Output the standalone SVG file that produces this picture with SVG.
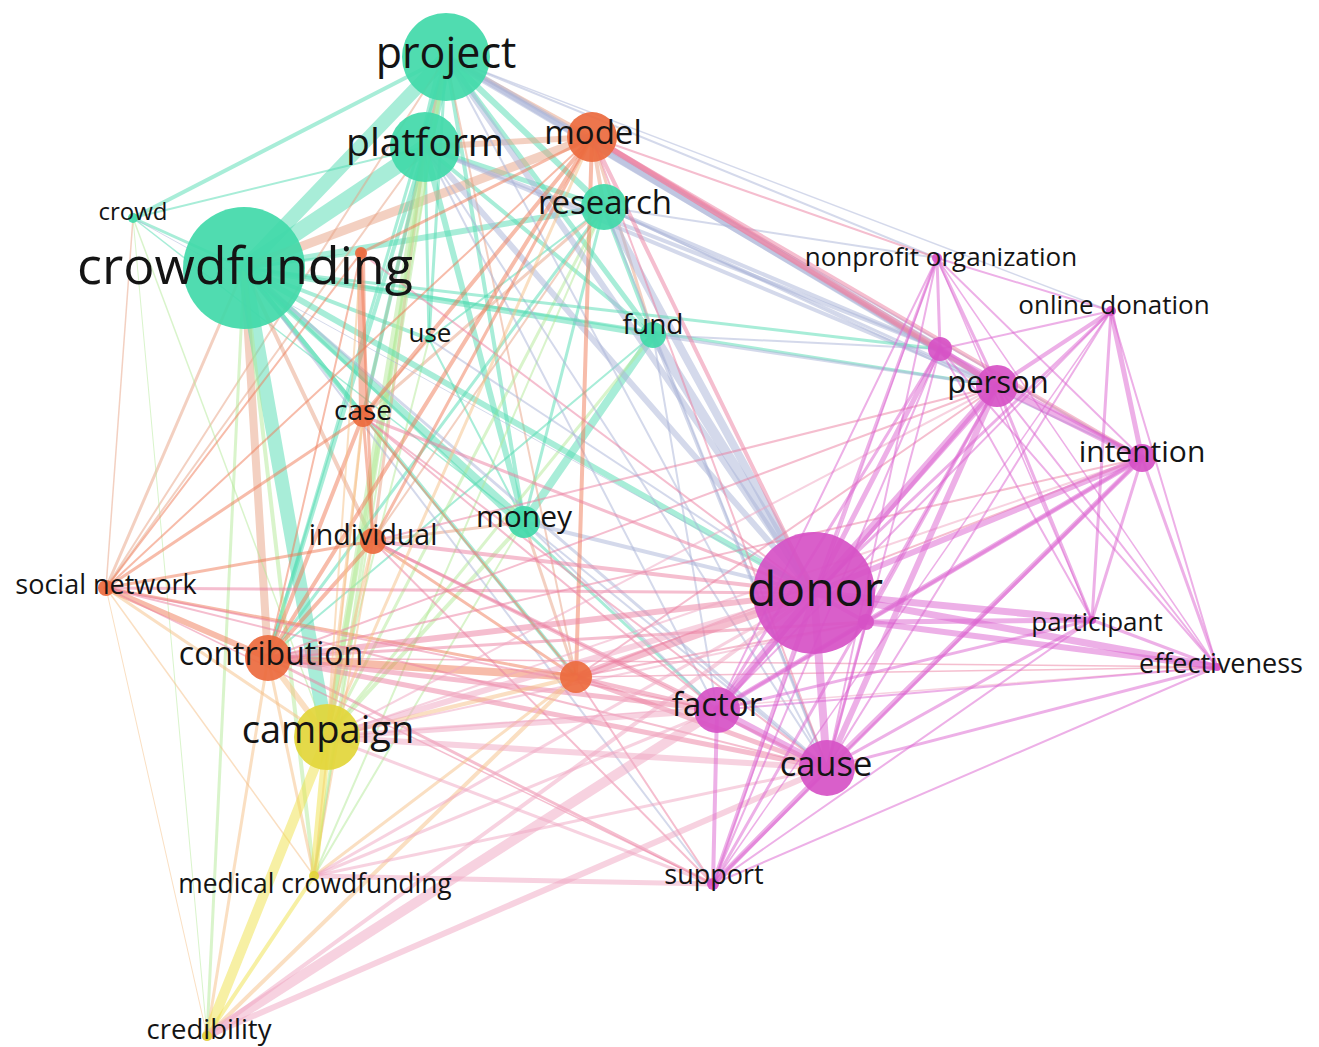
<svg xmlns="http://www.w3.org/2000/svg" width="1319" height="1047" viewBox="0 0 1319 1047">
<style>
  .e{fill:none;stroke-linecap:round;stroke-opacity:.5}
  .tt{stroke:#52dcb2}.oo{stroke:#ef7a55}.pp{stroke:#dc62d0}.yy{stroke:#f0e24a}
  .to{stroke:#e8a184}.tp{stroke:#a9b3d8}.ty{stroke:#b4ea98}.op{stroke:#ec7ea0}
  .oy{stroke:#f5bf86}.py{stroke:#efa6c2}
  .n{fill-opacity:.92}
  .teal{fill:#41d9a9}.orange{fill:#eb6a3e}.pink{fill:#d651c6}.yellow{fill:#e2d63a}
  text{font-family:"Open Sans","Noto Sans","DejaVu Sans",sans-serif;fill:#141414;text-anchor:middle}
</style>
<rect width="1319" height="1047" fill="#ffffff"/>
<g id="links">
  <!-- teal cluster -->
  <line class="e tt" x1="446" y1="57" x2="425" y2="147" stroke-width="14"/>
  <line class="e tt" x1="446" y1="57" x2="244" y2="268" stroke-width="14"/>
  <line class="e tt" x1="425" y1="147" x2="244" y2="268" stroke-width="16"/>
  <line class="e tt" x1="446" y1="57" x2="604" y2="207" stroke-width="6"/>
  <line class="e tt" x1="446" y1="57" x2="133" y2="218" stroke-width="4"/>
  <line class="e tt" x1="425" y1="147" x2="604" y2="207" stroke-width="5"/>
  <line class="e tt" x1="244" y1="268" x2="133" y2="218" stroke-width="3"/>
  <line class="e tt" x1="446" y1="57" x2="429" y2="339" stroke-width="3"/>
  <line class="e tt" x1="425" y1="147" x2="429" y2="339" stroke-width="3"/>
  <line class="e tt" x1="244" y1="268" x2="429" y2="339" stroke-width="4"/>
  <line class="e tt" x1="446" y1="57" x2="653" y2="335" stroke-width="5"/>
  <line class="e tt" x1="425" y1="147" x2="653" y2="335" stroke-width="4"/>
  <line class="e tt" x1="604" y1="207" x2="653" y2="335" stroke-width="4"/>
  <line class="e tt" x1="244" y1="268" x2="653" y2="335" stroke-width="6"/>
  <line class="e tt" x1="446" y1="57" x2="524" y2="522" stroke-width="4"/>
  <line class="e tt" x1="425" y1="147" x2="524" y2="522" stroke-width="6"/>
  <line class="e tt" x1="244" y1="268" x2="524" y2="522" stroke-width="8"/>
  <line class="e tt" x1="604" y1="207" x2="524" y2="522" stroke-width="3"/>
  <line class="e tt" x1="653" y1="335" x2="524" y2="522" stroke-width="8"/>
  <line class="e tt" x1="429" y1="339" x2="524" y2="522" stroke-width="2"/>
  <line class="e tt" x1="133" y1="218" x2="425" y2="147" stroke-width="2"/>
  <line class="e tt" x1="604" y1="207" x2="244" y2="268" stroke-width="6"/>
  <line class="e tt" x1="429" y1="339" x2="604" y2="207" stroke-width="2"/>
  <line class="e tt" x1="133" y1="218" x2="524" y2="522" stroke-width="1.5"/>
  <!-- teal to orange -->
  <line class="e to" x1="446" y1="57" x2="592" y2="137" stroke-width="4"/>
  <line class="e to" x1="425" y1="147" x2="592" y2="137" stroke-width="6"/>
  <line class="e to" x1="592" y1="137" x2="244" y2="268" stroke-width="9"/>
  <line class="e tt" x1="244" y1="268" x2="361" y2="253" stroke-width="3"/>
  <line class="e tt" x1="244" y1="268" x2="363" y2="416" stroke-width="5"/>
  <line class="e to" x1="244" y1="268" x2="373" y2="541" stroke-width="4"/>
  <line class="e to" x1="244" y1="268" x2="106" y2="588" stroke-width="3"/>
  <line class="e to" x1="244" y1="268" x2="268" y2="658" stroke-width="8"/>
  <line class="e tt" x1="244" y1="268" x2="576" y2="677" stroke-width="4"/>
  <line class="e to" x1="446" y1="57" x2="363" y2="416" stroke-width="3"/>
  <line class="e tt" x1="425" y1="147" x2="363" y2="416" stroke-width="4"/>
  <line class="e to" x1="425" y1="147" x2="373" y2="541" stroke-width="3"/>
  <line class="e to" x1="604" y1="207" x2="592" y2="137" stroke-width="4"/>
  <line class="e tt" x1="446" y1="57" x2="268" y2="658" stroke-width="3"/>
  <line class="e tt" x1="425" y1="147" x2="268" y2="658" stroke-width="4"/>
  <line class="e to" x1="524" y1="522" x2="373" y2="541" stroke-width="3"/>
  <line class="e to" x1="524" y1="522" x2="576" y2="677" stroke-width="3"/>
  <line class="e to" x1="653" y1="335" x2="592" y2="137" stroke-width="3"/>
  <line class="e to" x1="604" y1="207" x2="363" y2="416" stroke-width="3"/>
  <line class="e tt" x1="604" y1="207" x2="268" y2="658" stroke-width="3"/>
  <line class="e to" x1="133" y1="218" x2="106" y2="588" stroke-width="1.5"/>
  <line class="e to" x1="446" y1="57" x2="576" y2="677" stroke-width="2"/>
  <line class="e tt" x1="653" y1="335" x2="268" y2="658" stroke-width="2"/>
  <line class="e to" x1="604" y1="207" x2="373" y2="541" stroke-width="2"/>
  <line class="e to" x1="429" y1="339" x2="363" y2="416" stroke-width="2"/>
  <line class="e to" x1="446" y1="57" x2="106" y2="588" stroke-width="2"/>
  <line class="e to" x1="425" y1="147" x2="106" y2="588" stroke-width="2"/>
  <!-- teal to yellow -->
  <line class="e tt" x1="244" y1="268" x2="327" y2="737" stroke-width="14"/>
  <line class="e ty" x1="425" y1="147" x2="327" y2="737" stroke-width="6"/>
  <line class="e ty" x1="446" y1="57" x2="327" y2="737" stroke-width="5"/>
  <line class="e ty" x1="244" y1="268" x2="314" y2="876" stroke-width="4"/>
  <line class="e ty" x1="446" y1="57" x2="314" y2="876" stroke-width="2"/>
  <line class="e ty" x1="425" y1="147" x2="314" y2="876" stroke-width="3"/>
  <line class="e ty" x1="244" y1="268" x2="207" y2="1036" stroke-width="3"/>
  <line class="e ty" x1="524" y1="522" x2="327" y2="737" stroke-width="4"/>
  <line class="e ty" x1="604" y1="207" x2="327" y2="737" stroke-width="3"/>
  <line class="e ty" x1="133" y1="218" x2="207" y2="1036" stroke-width="1"/>
  <line class="e ty" x1="133" y1="218" x2="327" y2="737" stroke-width="1.5"/>
  <line class="e ty" x1="653" y1="335" x2="327" y2="737" stroke-width="3"/>
  <line class="e ty" x1="429" y1="339" x2="327" y2="737" stroke-width="2"/>
  <line class="e ty" x1="524" y1="522" x2="314" y2="876" stroke-width="2"/>
  <line class="e ty" x1="604" y1="207" x2="314" y2="876" stroke-width="2"/>
  <!-- teal to pink -->
  <line class="e tp" x1="446" y1="57" x2="940" y2="349" stroke-width="8"/>
  <line class="e tp" x1="446" y1="57" x2="997" y2="386" stroke-width="5"/>
  <line class="e tp" x1="425" y1="147" x2="814" y2="593" stroke-width="6"/>
  <line class="e tp" x1="604" y1="207" x2="814" y2="593" stroke-width="8"/>
  <line class="e tp" x1="653" y1="335" x2="814" y2="593" stroke-width="10"/>
  <line class="e tt" x1="244" y1="268" x2="814" y2="593" stroke-width="6"/>
  <line class="e tp" x1="446" y1="57" x2="814" y2="593" stroke-width="6"/>
  <line class="e tp" x1="425" y1="147" x2="997" y2="386" stroke-width="4"/>
  <line class="e tt" x1="244" y1="268" x2="997" y2="386" stroke-width="3"/>
  <line class="e tp" x1="604" y1="207" x2="997" y2="386" stroke-width="3"/>
  <line class="e tp" x1="446" y1="57" x2="937" y2="258" stroke-width="2"/>
  <line class="e tp" x1="604" y1="207" x2="937" y2="258" stroke-width="2"/>
  <line class="e tp" x1="653" y1="335" x2="997" y2="386" stroke-width="3"/>
  <line class="e tp" x1="524" y1="522" x2="814" y2="593" stroke-width="4"/>
  <line class="e tt" x1="244" y1="268" x2="717" y2="710" stroke-width="3"/>
  <line class="e tp" x1="244" y1="268" x2="827" y2="768" stroke-width="3"/>
  <line class="e tp" x1="425" y1="147" x2="827" y2="768" stroke-width="2"/>
  <line class="e tp" x1="446" y1="57" x2="1111" y2="311" stroke-width="1.5"/>
  <line class="e tp" x1="604" y1="207" x2="940" y2="349" stroke-width="4"/>
  <line class="e tp" x1="425" y1="147" x2="940" y2="349" stroke-width="4"/>
  <line class="e tp" x1="653" y1="335" x2="940" y2="349" stroke-width="2"/>
  <line class="e tt" x1="244" y1="268" x2="940" y2="349" stroke-width="3"/>
  <line class="e tp" x1="429" y1="339" x2="814" y2="593" stroke-width="2"/>
  <line class="e tp" x1="446" y1="57" x2="1142" y2="458" stroke-width="2"/>
  <line class="e tp" x1="244" y1="268" x2="713" y2="884" stroke-width="2"/>
  <line class="e tp" x1="524" y1="522" x2="717" y2="710" stroke-width="2"/>
  <line class="e tp" x1="524" y1="522" x2="827" y2="768" stroke-width="2"/>
  <line class="e tp" x1="653" y1="335" x2="717" y2="710" stroke-width="2"/>
  <line class="e tp" x1="653" y1="335" x2="827" y2="768" stroke-width="3"/>
  <line class="e tp" x1="604" y1="207" x2="1142" y2="458" stroke-width="2"/>
  <line class="e tp" x1="604" y1="207" x2="827" y2="768" stroke-width="2"/>
  <line class="e tp" x1="446" y1="57" x2="827" y2="768" stroke-width="2"/>
  <line class="e tp" x1="425" y1="147" x2="717" y2="710" stroke-width="2"/>
  <line class="e tp" x1="133" y1="218" x2="814" y2="593" stroke-width="1"/>
  <!-- orange cluster -->
  <line class="e oo" x1="592" y1="137" x2="363" y2="416" stroke-width="4"/>
  <line class="e oo" x1="592" y1="137" x2="373" y2="541" stroke-width="3"/>
  <line class="e oo" x1="592" y1="137" x2="268" y2="658" stroke-width="4"/>
  <line class="e oo" x1="592" y1="137" x2="576" y2="677" stroke-width="4"/>
  <line class="e oo" x1="363" y1="416" x2="373" y2="541" stroke-width="3"/>
  <line class="e oo" x1="363" y1="416" x2="268" y2="658" stroke-width="4"/>
  <line class="e oo" x1="373" y1="541" x2="268" y2="658" stroke-width="4"/>
  <line class="e oo" x1="106" y1="588" x2="268" y2="658" stroke-width="6"/>
  <line class="e oo" x1="106" y1="588" x2="373" y2="541" stroke-width="3"/>
  <line class="e oo" x1="106" y1="588" x2="363" y2="416" stroke-width="3"/>
  <line class="e oo" x1="106" y1="588" x2="361" y2="253" stroke-width="2"/>
  <line class="e oo" x1="268" y1="658" x2="576" y2="677" stroke-width="8"/>
  <line class="e oo" x1="373" y1="541" x2="576" y2="677" stroke-width="3"/>
  <line class="e oo" x1="363" y1="416" x2="576" y2="677" stroke-width="2"/>
  <line class="e oo" x1="361" y1="253" x2="373" y2="541" stroke-width="3"/>
  <line class="e oo" x1="361" y1="253" x2="268" y2="658" stroke-width="2"/>
  <line class="e oo" x1="106" y1="588" x2="576" y2="677" stroke-width="3"/>
  <line class="e oo" x1="592" y1="137" x2="361" y2="253" stroke-width="3"/>
  <line class="e oo" x1="592" y1="137" x2="106" y2="588" stroke-width="2"/>
  <line class="e oo" x1="361" y1="253" x2="363" y2="416" stroke-width="8"/>
  <!-- orange to pink -->
  <line class="e op" x1="576" y1="677" x2="814" y2="593" stroke-width="8"/>
  <line class="e op" x1="268" y1="658" x2="814" y2="593" stroke-width="6"/>
  <line class="e op" x1="268" y1="658" x2="717" y2="710" stroke-width="5"/>
  <line class="e op" x1="268" y1="658" x2="827" y2="768" stroke-width="5"/>
  <line class="e op" x1="576" y1="677" x2="717" y2="710" stroke-width="4"/>
  <line class="e op" x1="576" y1="677" x2="827" y2="768" stroke-width="5"/>
  <line class="e op" x1="106" y1="588" x2="814" y2="593" stroke-width="3"/>
  <line class="e op" x1="373" y1="541" x2="814" y2="593" stroke-width="4"/>
  <line class="e op" x1="363" y1="416" x2="814" y2="593" stroke-width="3"/>
  <line class="e op" x1="592" y1="137" x2="997" y2="386" stroke-width="5"/>
  <line class="e op" x1="592" y1="137" x2="814" y2="593" stroke-width="4"/>
  <line class="e op" x1="592" y1="137" x2="940" y2="349" stroke-width="6"/>
  <line class="e op" x1="592" y1="137" x2="937" y2="258" stroke-width="2"/>
  <line class="e op" x1="373" y1="541" x2="717" y2="710" stroke-width="3"/>
  <line class="e op" x1="106" y1="588" x2="717" y2="710" stroke-width="2"/>
  <line class="e op" x1="106" y1="588" x2="827" y2="768" stroke-width="2"/>
  <line class="e op" x1="268" y1="658" x2="713" y2="884" stroke-width="3"/>
  <line class="e op" x1="576" y1="677" x2="713" y2="884" stroke-width="2"/>
  <line class="e op" x1="373" y1="541" x2="827" y2="768" stroke-width="3"/>
  <line class="e op" x1="363" y1="416" x2="827" y2="768" stroke-width="2"/>
  <line class="e op" x1="592" y1="137" x2="1142" y2="458" stroke-width="4"/>
  <line class="e op" x1="268" y1="658" x2="997" y2="386" stroke-width="2"/>
  <line class="e op" x1="268" y1="658" x2="866" y2="622" stroke-width="3"/>
  <line class="e op" x1="576" y1="677" x2="866" y2="622" stroke-width="2"/>
  <line class="e op" x1="361" y1="253" x2="814" y2="593" stroke-width="2"/>
  <line class="e op" x1="373" y1="541" x2="997" y2="386" stroke-width="2"/>
  <line class="e op" x1="268" y1="658" x2="1142" y2="458" stroke-width="2"/>
  <line class="e op" x1="106" y1="588" x2="713" y2="884" stroke-width="1.5"/>
  <line class="e op" x1="363" y1="416" x2="717" y2="710" stroke-width="2"/>
  <line class="e op" x1="576" y1="677" x2="997" y2="386" stroke-width="2"/>
  <line class="e op" x1="576" y1="677" x2="1142" y2="458" stroke-width="2"/>
  <line class="e op" x1="373" y1="541" x2="713" y2="884" stroke-width="2"/>
  <line class="e op" x1="268" y1="658" x2="1217" y2="667" stroke-width="1.5"/>
  <line class="e op" x1="576" y1="677" x2="1217" y2="667" stroke-width="1.5"/>
  <line class="e op" x1="592" y1="137" x2="827" y2="768" stroke-width="2"/>
  <!-- orange to yellow -->
  <line class="e oy" x1="268" y1="658" x2="327" y2="737" stroke-width="6"/>
  <line class="e oy" x1="106" y1="588" x2="327" y2="737" stroke-width="3"/>
  <line class="e oy" x1="373" y1="541" x2="327" y2="737" stroke-width="3"/>
  <line class="e oy" x1="363" y1="416" x2="327" y2="737" stroke-width="3"/>
  <line class="e oy" x1="576" y1="677" x2="327" y2="737" stroke-width="4"/>
  <line class="e oy" x1="268" y1="658" x2="314" y2="876" stroke-width="3"/>
  <line class="e oy" x1="268" y1="658" x2="207" y2="1036" stroke-width="3"/>
  <line class="e oy" x1="576" y1="677" x2="207" y2="1036" stroke-width="4"/>
  <line class="e oy" x1="106" y1="588" x2="207" y2="1036" stroke-width="1"/>
  <line class="e oy" x1="592" y1="137" x2="327" y2="737" stroke-width="3"/>
  <line class="e oy" x1="361" y1="253" x2="327" y2="737" stroke-width="2"/>
  <line class="e oy" x1="373" y1="541" x2="314" y2="876" stroke-width="2"/>
  <line class="e oy" x1="363" y1="416" x2="314" y2="876" stroke-width="2"/>
  <line class="e oy" x1="576" y1="677" x2="314" y2="876" stroke-width="3"/>
  <line class="e oy" x1="106" y1="588" x2="314" y2="876" stroke-width="1.5"/>
  <!-- yellow cluster -->
  <line class="e yy" x1="327" y1="737" x2="314" y2="876" stroke-width="8"/>
  <line class="e yy" x1="327" y1="737" x2="207" y2="1036" stroke-width="10"/>
  <line class="e yy" x1="314" y1="876" x2="207" y2="1036" stroke-width="4"/>
  <!-- yellow to pink -->
  <line class="e py" x1="207" y1="1036" x2="717" y2="710" stroke-width="10"/>
  <line class="e py" x1="207" y1="1036" x2="827" y2="768" stroke-width="6"/>
  <line class="e py" x1="207" y1="1036" x2="814" y2="593" stroke-width="4"/>
  <line class="e py" x1="314" y1="876" x2="713" y2="884" stroke-width="5"/>
  <line class="e py" x1="327" y1="737" x2="814" y2="593" stroke-width="6"/>
  <line class="e py" x1="327" y1="737" x2="717" y2="710" stroke-width="6"/>
  <line class="e py" x1="327" y1="737" x2="827" y2="768" stroke-width="6"/>
  <line class="e py" x1="327" y1="737" x2="713" y2="884" stroke-width="3"/>
  <line class="e py" x1="314" y1="876" x2="814" y2="593" stroke-width="3"/>
  <line class="e py" x1="314" y1="876" x2="717" y2="710" stroke-width="3"/>
  <line class="e py" x1="314" y1="876" x2="827" y2="768" stroke-width="3"/>
  <line class="e py" x1="327" y1="737" x2="866" y2="622" stroke-width="2"/>
  <line class="e py" x1="327" y1="737" x2="997" y2="386" stroke-width="2"/>
  <line class="e py" x1="327" y1="737" x2="1142" y2="458" stroke-width="2"/>
  <line class="e py" x1="327" y1="737" x2="1217" y2="667" stroke-width="1.5"/>
  <!-- pink cluster -->
  <line class="e pp" x1="814" y1="593" x2="997" y2="386" stroke-width="8"/>
  <line class="e pp" x1="814" y1="593" x2="1142" y2="458" stroke-width="6"/>
  <line class="e pp" x1="814" y1="593" x2="827" y2="768" stroke-width="8"/>
  <line class="e pp" x1="814" y1="593" x2="717" y2="710" stroke-width="8"/>
  <line class="e pp" x1="814" y1="593" x2="1092" y2="620" stroke-width="7"/>
  <line class="e pp" x1="814" y1="593" x2="1217" y2="667" stroke-width="7"/>
  <line class="e pp" x1="814" y1="593" x2="713" y2="884" stroke-width="4"/>
  <line class="e pp" x1="814" y1="593" x2="940" y2="349" stroke-width="5"/>
  <line class="e pp" x1="814" y1="593" x2="937" y2="258" stroke-width="3"/>
  <line class="e pp" x1="814" y1="593" x2="1111" y2="311" stroke-width="3"/>
  <line class="e pp" x1="814" y1="593" x2="866" y2="622" stroke-width="4"/>
  <line class="e pp" x1="997" y1="386" x2="1142" y2="458" stroke-width="7"/>
  <line class="e pp" x1="997" y1="386" x2="940" y2="349" stroke-width="6"/>
  <line class="e pp" x1="997" y1="386" x2="937" y2="258" stroke-width="3"/>
  <line class="e pp" x1="997" y1="386" x2="1111" y2="311" stroke-width="4"/>
  <line class="e pp" x1="997" y1="386" x2="827" y2="768" stroke-width="6"/>
  <line class="e pp" x1="997" y1="386" x2="717" y2="710" stroke-width="4"/>
  <line class="e pp" x1="997" y1="386" x2="1092" y2="620" stroke-width="3"/>
  <line class="e pp" x1="997" y1="386" x2="713" y2="884" stroke-width="3"/>
  <line class="e pp" x1="997" y1="386" x2="1217" y2="667" stroke-width="2"/>
  <line class="e pp" x1="940" y1="349" x2="937" y2="258" stroke-width="3"/>
  <line class="e pp" x1="940" y1="349" x2="1111" y2="311" stroke-width="2"/>
  <line class="e pp" x1="940" y1="349" x2="1142" y2="458" stroke-width="3"/>
  <line class="e pp" x1="940" y1="349" x2="717" y2="710" stroke-width="3"/>
  <line class="e pp" x1="940" y1="349" x2="827" y2="768" stroke-width="2"/>
  <line class="e pp" x1="1142" y1="458" x2="1111" y2="311" stroke-width="5"/>
  <line class="e pp" x1="1142" y1="458" x2="717" y2="710" stroke-width="5"/>
  <line class="e pp" x1="1142" y1="458" x2="827" y2="768" stroke-width="5"/>
  <line class="e pp" x1="1142" y1="458" x2="1092" y2="620" stroke-width="3"/>
  <line class="e pp" x1="1142" y1="458" x2="1217" y2="667" stroke-width="3"/>
  <line class="e pp" x1="1142" y1="458" x2="713" y2="884" stroke-width="3"/>
  <line class="e pp" x1="1142" y1="458" x2="937" y2="258" stroke-width="2"/>
  <line class="e pp" x1="1111" y1="311" x2="937" y2="258" stroke-width="2"/>
  <line class="e pp" x1="1111" y1="311" x2="1092" y2="620" stroke-width="3"/>
  <line class="e pp" x1="1111" y1="311" x2="1217" y2="667" stroke-width="2"/>
  <line class="e pp" x1="1111" y1="311" x2="717" y2="710" stroke-width="2"/>
  <line class="e pp" x1="1092" y1="620" x2="1217" y2="667" stroke-width="3"/>
  <line class="e pp" x1="1092" y1="620" x2="717" y2="710" stroke-width="3"/>
  <line class="e pp" x1="1092" y1="620" x2="827" y2="768" stroke-width="3"/>
  <line class="e pp" x1="1217" y1="667" x2="827" y2="768" stroke-width="3"/>
  <line class="e pp" x1="1217" y1="667" x2="717" y2="710" stroke-width="2"/>
  <line class="e pp" x1="1217" y1="667" x2="713" y2="884" stroke-width="2"/>
  <line class="e pp" x1="717" y1="710" x2="827" y2="768" stroke-width="8"/>
  <line class="e pp" x1="717" y1="710" x2="713" y2="884" stroke-width="4"/>
  <line class="e pp" x1="827" y1="768" x2="713" y2="884" stroke-width="5"/>
  <line class="e pp" x1="866" y1="622" x2="1217" y2="667" stroke-width="6"/>
  <line class="e pp" x1="866" y1="622" x2="1092" y2="620" stroke-width="5"/>
  <line class="e pp" x1="866" y1="622" x2="827" y2="768" stroke-width="3"/>
  <line class="e pp" x1="866" y1="622" x2="997" y2="386" stroke-width="3"/>
  <line class="e pp" x1="937" y1="258" x2="827" y2="768" stroke-width="2"/>
  <line class="e pp" x1="937" y1="258" x2="717" y2="710" stroke-width="2"/>
  <line class="e pp" x1="937" y1="258" x2="1217" y2="667" stroke-width="1.5"/>
  <line class="e pp" x1="940" y1="349" x2="1217" y2="667" stroke-width="2"/>
  <line class="e pp" x1="940" y1="349" x2="1092" y2="620" stroke-width="2"/>
  <line class="e pp" x1="713" y1="884" x2="1092" y2="620" stroke-width="2"/>
  <line class="e pp" x1="866" y1="622" x2="717" y2="710" stroke-width="3"/>
  <line class="e pp" x1="866" y1="622" x2="1142" y2="458" stroke-width="3"/>
  <line class="e pp" x1="937" y1="258" x2="713" y2="884" stroke-width="1.5"/>
  <line class="e pp" x1="1111" y1="311" x2="827" y2="768" stroke-width="2"/>
  <line class="e pp" x1="1111" y1="311" x2="713" y2="884" stroke-width="1.5"/>
  <line class="e pp" x1="937" y1="258" x2="1092" y2="620" stroke-width="1.5"/>
  <line class="e pp" x1="940" y1="349" x2="713" y2="884" stroke-width="2"/>
</g>
<!-- nodes without labels first, so neighbouring labels sit on top -->
<g id="node-o-253"><circle class="n orange" cx="361" cy="253" r="6"/></g>
<g id="node-o-677"><circle class="n orange" cx="576" cy="677" r="16"/></g>
<g id="node-p-349"><circle class="n pink" cx="940" cy="349" r="12"/></g>
<g id="node-p-622"><circle class="n pink" cx="866" cy="622" r="8"/></g>
<!-- teal cluster -->
<g id="node-project"><circle class="n teal" cx="446" cy="57" r="44"/><text x="446" y="68" font-size="43">project</text></g>
<g id="node-platform"><circle class="n teal" cx="425" cy="147" r="35"/><text x="425" y="156" font-size="39">platform</text></g>
<g id="node-research"><circle class="n teal" cx="604" cy="207" r="23"/><text x="605" y="214" font-size="33">research</text></g>
<g id="node-crowd"><circle class="n teal" cx="133" cy="218" r="5"/><text x="133" y="220" font-size="24">crowd</text></g>
<g id="node-crowdfunding"><circle class="n teal" cx="244" cy="268" r="61"/><text x="245" y="284" font-size="52">crowdfunding</text></g>
<g id="node-use"><circle class="n teal" cx="429" cy="339" r="4"/><text x="430" y="342" font-size="26">use</text></g>
<g id="node-fund"><circle class="n teal" cx="653" cy="335" r="13"/><text x="653" y="334" font-size="28">fund</text></g>
<g id="node-money"><circle class="n teal" cx="524" cy="522" r="16"/><text x="524" y="527" font-size="30">money</text></g>
<!-- orange cluster -->
<g id="node-model"><circle class="n orange" cx="592" cy="137" r="25"/><text x="593" y="144" font-size="33">model</text></g>
<g id="node-case"><circle class="n orange" cx="363" cy="416" r="11"/><text x="363" y="420" font-size="28">case</text></g>
<g id="node-individual"><circle class="n orange" cx="373" cy="541" r="13"/><text x="373" y="545" font-size="28.5">individual</text></g>
<g id="node-social-network"><circle class="n orange" cx="106" cy="588" r="8"/><text x="106" y="594" font-size="27">social network</text></g>
<g id="node-contribution"><circle class="n orange" cx="268" cy="658" r="23"/><text x="271" y="665" font-size="32">contribution</text></g>
<!-- pink cluster -->
<g id="node-nonprofit-organization"><circle class="n pink" cx="937" cy="258" r="5"/><text x="941" y="266" font-size="26">nonprofit organization</text></g>
<g id="node-online-donation"><circle class="n pink" cx="1111" cy="311" r="5"/><text x="1114" y="314" font-size="26">online donation</text></g>
<g id="node-person"><circle class="n pink" cx="997" cy="386" r="21"/><text x="998" y="393" font-size="31">person</text></g>
<g id="node-intention"><circle class="n pink" cx="1142" cy="458" r="14"/><text x="1142" y="462" font-size="30">intention</text></g>
<g id="node-donor"><circle class="n pink" cx="814" cy="593" r="61"/><text x="815" y="606" font-size="48">donor</text></g>
<g id="node-participant"><circle class="n pink" cx="1092" cy="620" r="4"/><text x="1097" y="631" font-size="26">participant</text></g>
<g id="node-effectiveness"><circle class="n pink" cx="1217" cy="667" r="4"/><text x="1221" y="673" font-size="27">effectiveness</text></g>
<g id="node-factor"><circle class="n pink" cx="717" cy="710" r="23"/><text x="717" y="716" font-size="33">factor</text></g>
<g id="node-cause"><circle class="n pink" cx="827" cy="768" r="28"/><text x="826" y="776" font-size="34.5">cause</text></g>
<g id="node-support"><circle class="n pink" cx="713" cy="884" r="6"/><text x="714" y="884" font-size="27">support</text></g>
<!-- yellow cluster -->
<g id="node-campaign"><circle class="n yellow" cx="327" cy="737" r="33"/><text x="328" y="743" font-size="38">campaign</text></g>
<g id="node-medical-crowdfunding"><circle class="n yellow" cx="314" cy="876" r="5"/><text x="315" y="893" font-size="26.4">medical crowdfunding</text></g>
<g id="node-credibility"><circle class="n yellow" cx="207" cy="1036" r="5"/><text x="209" y="1039" font-size="27.5">credibility</text></g>
</svg>
